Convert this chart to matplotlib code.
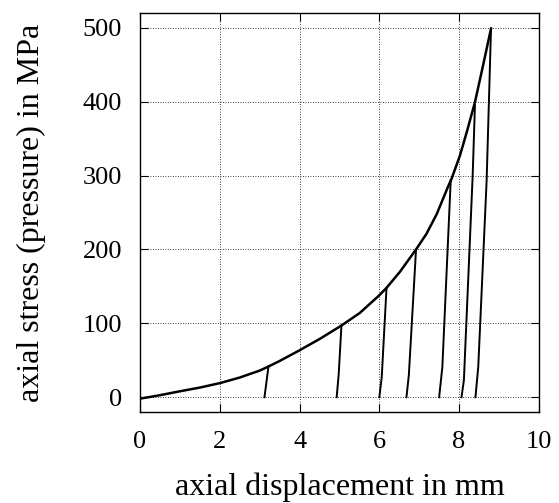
#!/usr/bin/env python
# Axial stress vs displacement, loading curve with unloading branches
import matplotlib

matplotlib.use("Agg")
import matplotlib.pyplot as plt

plt.rcParams["font.family"] = ["Liberation Serif", "DejaVu Serif"]

# loading envelope (mm, MPa)
env_x = [0.0, 0.5, 1.0, 1.5, 2.02, 2.5, 3.0, 3.22, 3.5, 3.97, 4.51, 5.05,
         5.51, 6.0, 6.18, 6.52, 6.92, 7.18, 7.44, 7.73, 7.81, 8.02, 8.19,
         8.40, 8.60, 8.80]
env_y = [-2, 2.7, 8, 13, 19.3, 26.6, 36, 41.5, 49, 62.6, 79, 97,
         114, 138, 148, 170, 200, 221, 248, 286, 295.5, 327, 358.5,
         400, 449, 499]

# unloading branches: top -> kink(s) -> bottom
unload_x = [
    [3.22, 3.12],
    [5.05, 4.98, 4.93],
    [6.18, 6.06, 6.00],
    [6.92, 6.74, 6.68],
    [7.79, 7.58, 7.50],
    [8.40, 8.34, 8.12, 8.06],
    [8.80, 8.69, 8.48, 8.41],
]
unload_y = [
    [41.5, 0],
    [97, 30, 0],
    [148, 27, 0],
    [200, 30, 0],
    [294, 41, 0],
    [400, 300, 23, 0],
    [499, 293, 41, 0],
]

fig, ax = plt.subplots(figsize=(5.59, 5.03), dpi=100)
fig.subplots_adjust(left=0.2505, right=0.964, top=0.974, bottom=0.181)

ax.plot(env_x, env_y, color="black", lw=1.8)
for xs, ys in zip(unload_x, unload_y):
    ax.plot(xs, ys, color="black", lw=1.4)

ax.set_xlim(0, 10)
ax.set_ylim(-20, 520)
ax.set_xticks([0, 2, 4, 6, 8, 10])
ax.set_yticks([0, 100, 200, 300, 400, 500])
ax.grid(True, color="black", linestyle=(0, (1, 2)), lw=0.6)
ax.tick_params(direction="in", top=True, right=True, length=6, labelsize=19)
ax.tick_params(axis="x", pad=14)
ax.tick_params(axis="y", pad=13)
for s in ax.spines.values():
    s.set_linewidth(1.0)

ax.set_xlabel("axial displacement in mm", fontsize=23, labelpad=14)
ax.set_ylabel("axial stress (pressure) in MPa", fontsize=23, labelpad=26)

plt.savefig("out.png")
